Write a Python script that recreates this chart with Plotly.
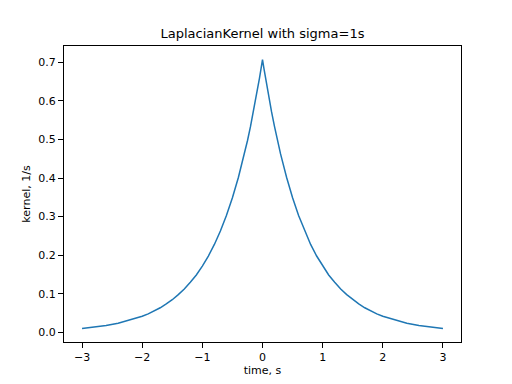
import plotly.graph_objects as go

# time samples (s) and kernel values (1/s)
t_right = [0.0, 0.025, 0.05, 0.075, 0.1, 0.15, 0.2, 0.25, 0.3, 0.4, 0.5, 0.6, 0.7, 0.8, 0.9, 1.0,
           1.1, 1.2, 1.3, 1.4, 1.5, 1.6, 1.7, 1.8, 1.9, 2.0, 2.2, 2.4, 2.6, 2.8, 3.0]
k_right = [0.707, 0.6825, 0.659, 0.636, 0.614, 0.572, 0.533, 0.4965, 0.4625, 0.402, 0.349, 0.303,
           0.263, 0.228, 0.198, 0.172, 0.149, 0.130, 0.1124, 0.098, 0.0848, 0.074, 0.0639, 0.055,
           0.0481, 0.042, 0.032, 0.024, 0.018, 0.0135, 0.0102]

time_s = [-v for v in t_right[:0:-1]] + t_right
kernel = k_right[:0:-1] + k_right

x_ticks = [-3, -2, -1, 0, 1, 2, 3]
y_ticks = [0.0, 0.1, 0.2, 0.3, 0.4, 0.5, 0.6, 0.7]

fig = go.Figure(go.Scatter(x=time_s, y=kernel, mode="lines",
                           line=dict(color="#1f77b4", width=1.5)))

axis_common = dict(showline=True, linecolor="black", linewidth=1, mirror=True,
                   ticks="outside", ticklen=5, tickwidth=1, tickcolor="black",
                   showgrid=False, zeroline=False, automargin=False,
                   tickfont=dict(size=11, color="black"))

# the page body has an 8px default margin, so the figure is placed at (8, 8)
fig.update_layout(
    width=504, height=376,
    margin=dict(l=56, r=51, t=38, b=42),
    paper_bgcolor="white", plot_bgcolor="white",
    font=dict(family="DejaVu Sans", color="black"),
    title=dict(text="LaplacianKernel with sigma=1s", x=254.5 / 504,
               xanchor="center", y=1 - 25 / 376, yanchor="middle", font=dict(size=13)),
    showlegend=False,
    xaxis=dict(range=[-3.3, 3.3], tickvals=x_ticks,
               title=dict(text="time, s", font=dict(size=11), standoff=0), **axis_common),
    yaxis=dict(range=[-0.0247, 0.742], tickvals=y_ticks, tickformat=".1f",
               title=dict(text="kernel, 1/s", font=dict(size=11), standoff=5), **axis_common),
)

fig.write_html("out.html")
